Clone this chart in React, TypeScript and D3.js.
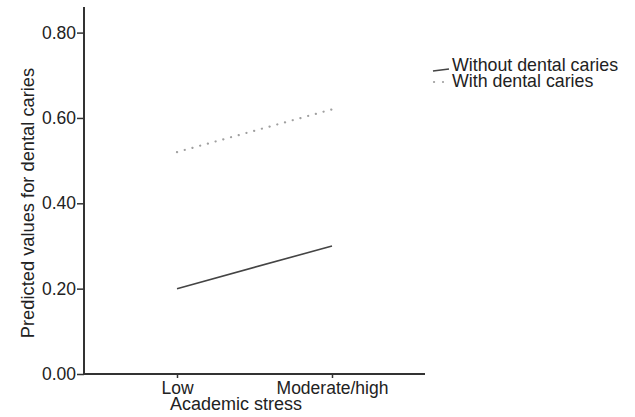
import React, { useEffect, useRef } from 'react';
import * as d3 from 'd3';

const categories = ['Low', 'Moderate/high'];
const withoutCaries = [0.2, 0.3];
const withCaries = [0.52, 0.62];
const yTicks = [0, 0.2, 0.4, 0.6, 0.8];
const seriesNames = ['Without dental caries', 'With dental caries'];

const W = 635;
const H = 417;
const FONT = 'Liberation Sans, Arial, Helvetica, sans-serif';

export default function App() {
  const ref = useRef<SVGSVGElement>(null);

  useEffect(() => {
    const svg = d3.select(ref.current);
    svg.selectAll('*').remove();

    const x = d3.scalePoint<string>().domain(categories).range([84, 425]).padding(0.6);
    const y = d3.scaleLinear().domain([0, 0.86]).range([374, 7]);

    const g = svg.append('g').style('font-family', FONT).style('font-size', '18px').attr('fill', '#222');

    // y axis
    const yAxis = g.append('g')
      .attr('transform', 'translate(84,0)')
      .call(d3.axisLeft(y).tickValues(yTicks).tickFormat(d3.format('.2f')).tickSize(7).tickPadding(1));
    yAxis.select('.domain').attr('stroke', '#333').attr('stroke-width', 2).attr('d', 'M0,' + y(0.86) + 'V' + y(0));
    yAxis.selectAll('.tick line').attr('stroke', '#333').attr('stroke-width', 1.5);
    yAxis.selectAll('.tick text').style('font-family', FONT).style('font-size', '17.5px').attr('fill', '#222');

    // x axis
    const xAxis = g.append('g')
      .attr('transform', 'translate(0,374)')
      .call(d3.axisBottom(x).tickSize(4).tickPadding(4));
    xAxis.select('.domain').attr('stroke', '#333').attr('stroke-width', 2).attr('d', 'M84,0H425');
    xAxis.selectAll('.tick line').attr('stroke', '#333').attr('stroke-width', 1.5);
    xAxis.selectAll('.tick text').style('font-family', FONT).style('font-size', '17.5px').attr('fill', '#222');

    // axis titles
    g.append('text')
      .attr('x', 236).attr('y', 410)
      .attr('text-anchor', 'middle')
      .text('Academic stress');
    g.append('text')
      .attr('transform', 'translate(34,203) rotate(-90)')
      .attr('text-anchor', 'middle')
      .style('font-size', '18.3px')
      .text('Predicted values for dental caries');

    const line = d3.line<number>()
      .x((d, i) => x(categories[i]) as number)
      .y(d => y(d));

    g.append('path')
      .datum(withoutCaries)
      .attr('d', line)
      .attr('fill', 'none')
      .attr('stroke', '#444')
      .attr('stroke-width', 1.6);

    g.append('path')
      .datum(withCaries)
      .attr('d', line)
      .attr('fill', 'none')
      .attr('stroke', '#a0a0a0')
      .attr('stroke-width', 2.2)
      .attr('stroke-linecap', 'round')
      .attr('stroke-dasharray', '0.1 7.9');

    // legend
    const leg = g.append('g');
    leg.append('path').attr('d', 'M433,71L441,70L449,69').attr('fill', 'none').attr('stroke', '#444').attr('stroke-width', 1.6);
    leg.append('path').attr('d', 'M434,82H443').attr('fill', 'none').attr('stroke', '#a0a0a0')
      .attr('stroke-width', 2.2).attr('stroke-linecap', 'round').attr('stroke-dasharray', '0.1 8.9');
    leg.selectAll('text.lg')
      .data(seriesNames)
      .enter().append('text')
      .attr('class', 'lg')
      .attr('x', 452)
      .attr('y', (d, i) => 71 + i * 16)
      .style('font-size', '17.8px')
      .text(d => d);
  }, []);

  return (
    <svg ref={ref} width={W} height={H}
      style={{ position: 'absolute', left: 0, top: 0, background: '#fff' }} />
  );
}
